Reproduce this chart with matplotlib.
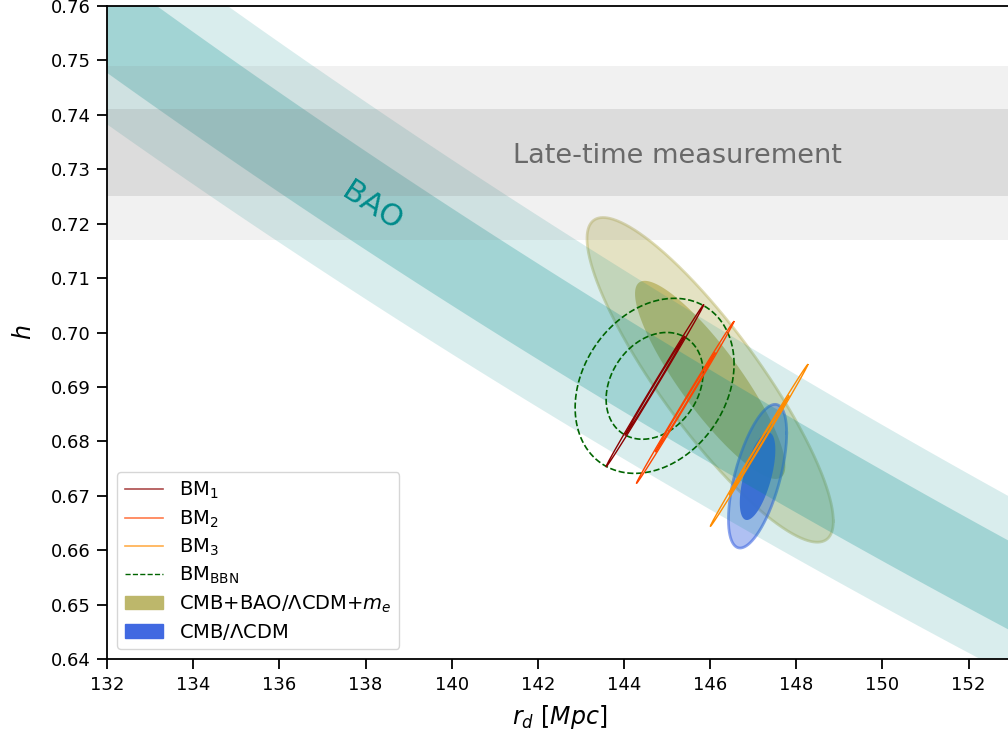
import numpy as np
import matplotlib.pyplot as plt
from matplotlib.lines import Line2D
from matplotlib.patches import Patch
from matplotlib.ticker import MultipleLocator

# BAO: r_d * h = const
bao_rdh = 99.95
bao_err = 1.25

# late-time h
late_h = 0.733
late_err = 0.008

# gaussian contours: mean, (sigma_rd, sigma_h), correlation
olive_mean = (146.0, 0.6913)
olive_sig = (1.15, 0.0120)
olive_rho = -0.87

blue_mean = (147.10, 0.6736)
blue_sig = (0.272, 0.00531)
blue_rho = 0.6

bbn_mean = (144.71, 0.6902)
bbn_sig = (0.742, 0.00647)
bbn_rho = 0.25

bm_names = ['BM$_1$', 'BM$_2$', 'BM$_3$']
bm_means = [(144.715, 0.6902), (145.42, 0.68715), (147.135, 0.67925)]
bm_sig = (0.455, 0.00598)
bm_rho = 0.999
bm_colors = ['darkred', 'orangered', 'darkorange']

levels = [2.30, 6.18]  # 1 and 2 sigma in 2D


def contour_xy(mean, sig, rho, k):
    t = np.linspace(0, 2 * np.pi, 500)
    cov = np.array([[sig[0] ** 2, rho * sig[0] * sig[1]],
                    [rho * sig[0] * sig[1], sig[1] ** 2]])
    L = np.linalg.cholesky(cov)
    p = L @ np.vstack([np.cos(t), np.sin(t)]) * np.sqrt(k)
    return mean[0] + p[0], mean[1] + p[1]


plt.rcParams['axes.linewidth'] = 1.3
fig = plt.figure(figsize=(10.08, 7.36), dpi=100)
ax = fig.add_axes([0.1062, 0.1046, 0.8975, 0.8872])

# CMB+BAO / LCDM+me
x, y = contour_xy(olive_mean, olive_sig, olive_rho, levels[1])
ax.fill(x, y, color='darkkhaki', alpha=0.4, lw=0, zorder=1)
ax.plot(x, y, color='darkkhaki', alpha=0.5, lw=2, zorder=1)
x, y = contour_xy(olive_mean, olive_sig, olive_rho, levels[0])
ax.fill(x, y, color='darkkhaki', alpha=0.9, lw=0, zorder=1)

# CMB / LCDM
x, y = contour_xy(blue_mean, blue_sig, blue_rho, levels[1])
ax.fill(x, y, color='royalblue', alpha=0.42, lw=0, zorder=1)
ax.plot(x, y, color='royalblue', alpha=0.6, lw=2, zorder=1)
x, y = contour_xy(blue_mean, blue_sig, blue_rho, levels[0])
ax.fill(x, y, color='royalblue', alpha=0.95, lw=0, zorder=1)

# bands
rd = np.linspace(128, 158, 300)
ax.fill_between(rd, (bao_rdh - 2 * bao_err) / rd, (bao_rdh + 2 * bao_err) / rd,
                color='darkcyan', alpha=0.15, lw=0, zorder=2)
ax.fill_between(rd, (bao_rdh - bao_err) / rd, (bao_rdh + bao_err) / rd,
                color='darkcyan', alpha=0.25, lw=0, zorder=2)
ax.axhspan(late_h - 2 * late_err, late_h + 2 * late_err, color='gray', alpha=0.11, lw=0, zorder=2)
ax.axhspan(late_h - late_err, late_h + late_err, color='gray', alpha=0.18, lw=0, zorder=2)

# BBN dashed
for k in levels:
    x, y = contour_xy(bbn_mean, bbn_sig, bbn_rho, k)
    ax.plot(x, y, color='darkgreen', ls='--', lw=1.2, zorder=3)

# BM lines
for m, c in zip(bm_means, bm_colors):
    for k in levels:
        x, y = contour_xy(m, bm_sig, bm_rho, k)
        ax.plot(x, y, color=c, lw=1.0, zorder=3)

ax.text(138.15, 0.7232, 'BAO', color='darkcyan', fontsize=22, rotation=-33,
        ha='center', va='center', zorder=4)
ax.text(145.25, 0.7325, 'Late-time measurement', color='dimgray', fontsize=19.5,
        ha='center', va='center', zorder=4)

ax.set_xlim(132, 153)
ax.set_ylim(0.64, 0.76)
ax.xaxis.set_major_locator(MultipleLocator(2))
ax.yaxis.set_major_locator(MultipleLocator(0.01))
ax.yaxis.set_major_formatter(plt.FormatStrFormatter('%.2f'))
ax.tick_params(length=7, width=1.3, pad=5)
ax.tick_params(axis='x', labelsize=13)
ax.tick_params(axis='y', labelsize=13)
ax.set_xlabel(r'$r_d\ [Mpc]$', fontsize=17, labelpad=7)
ax.set_ylabel(r'$h$', fontsize=17, labelpad=10)

handles = [Line2D([], [], color=c, lw=1.2, alpha=0.7) for c in bm_colors]
handles.append(Line2D([], [], color='darkgreen', ls='--', lw=1))
handles.append(Patch(color='darkkhaki'))
handles.append(Patch(color='royalblue'))
labels = bm_names + [r'BM$_{\rm BBN}$', r'CMB+BAO/$\Lambda$CDM+$m_e$', r'CMB/$\Lambda$CDM']
ax.legend(handles, labels, loc='lower left', fontsize=14, labelspacing=0.36)

plt.savefig('out.png', dpi=100)
